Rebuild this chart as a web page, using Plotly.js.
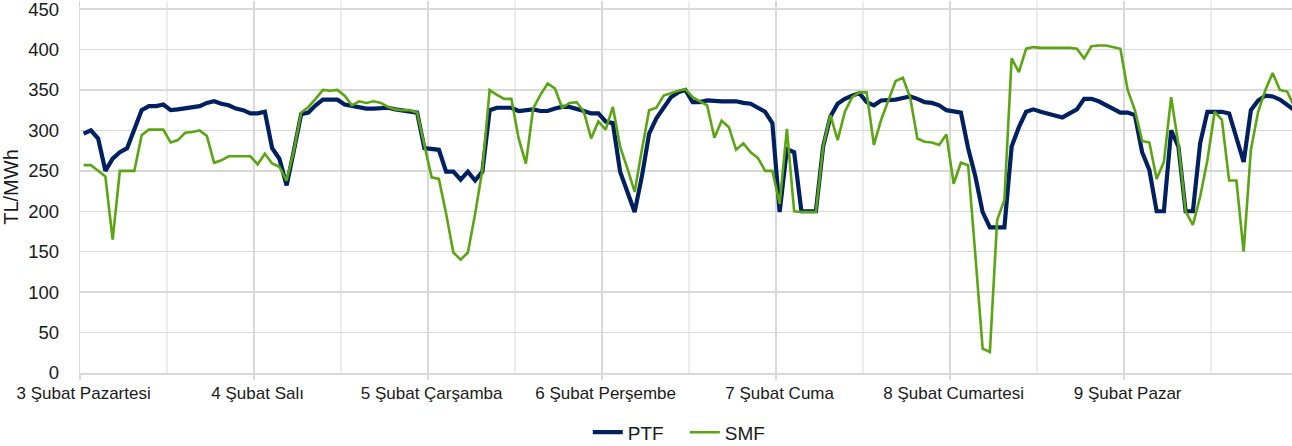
<!DOCTYPE html>
<html><head><meta charset="utf-8">
<script src="https://cdn.plot.ly/plotly-3.0.1.min.js"></script>
<style>html,body{margin:0;padding:0;overflow:hidden;background:#fff}</style>
</head><body><div id="chart" style="width:1292px;height:446px"></div>
<script>
const dayLabels = ['3 Şubat Pazartesi','4 Şubat Salı','5 Şubat Çarşamba','6 Şubat Perşembe','7 Şubat Cuma','8 Şubat Cumartesi','9 Şubat Pazar'];
const seriesNames = ['PTF','SMF'];
const yTicks = [0,50,100,150,200,250,300,350,400,450];
const ptf = [
296,300,290,250,265,273,278,301,325,330,330,332,325,326,327,328,330,334,336,333,331,327,325,321,
321,323,278,265,232,275,320,322,331,338,338,338,332,330,329,327,327,327,328,326,325,324,322,278,
277,276,249,249,239,249,238,249,325,328,328,328,324,325,326,324,324,327,329,329,327,324,321,321,
311,309,249,222,199,243,296,315,329,341,347,350,335,335,337,336,336,336,336,334,333,328,323,309,
199,277,273,200,200,200,280,317,333,339,343,346,335,331,337,337,338,340,342,339,335,334,331,325,
323,322,278,243,199,180,180,180,280,304,323,326,323,321,319,316,321,326,339,339,336,331,327,322,
322,319,273,251,200,200,300,280,200,200,284,323,323,323,321,292,261,325,337,343,342,338,332,325
];
const smf = [
257,257,250,243,165,250,250,250,294,301,301,301,285,288,297,298,300,293,260,263,268,268,268,268,
258,271,259,255,238,275,322,329,339,350,349,350,343,331,336,334,336,334,329,326,325,325,322,280,
242,240,197,149,140,149,197,251,350,344,339,339,290,259,327,344,358,352,328,334,335,323,290,311,
301,329,280,253,224,276,325,328,343,346,349,351,341,336,331,291,312,304,276,284,273,266,250,250,
209,302,200,199,199,199,280,319,288,323,341,347,347,282,313,337,361,365,341,290,286,285,282,295,
234,260,257,145,30,26,189,214,389,372,401,403,402,402,402,402,402,401,389,404,405,405,403,401,
350,325,287,285,240,261,341,283,200,183,218,263,323,313,238,238,150,276,323,350,371,350,348,329
];
const hours = ptf.map((_, i) => i);
const labelPos = dayLabels.map((_, d) => d * 24);
const dayBounds = dayLabels.map((_, d) => d * 24 - 0.5);
const halfBounds = dayLabels.map((_, d) => d * 24 + 11.5);
const FONT = 'Arial, "Liberation Sans", sans-serif';
const xr = [-0.5, 166.67];

const traces = [
  {x: hours, y: ptf, name: seriesNames[0], type: 'scatter', mode: 'lines',
   line: {color: '#002060', width: 4.2}, xaxis: 'x', yaxis: 'y', hoverinfo: 'skip'},
  {x: hours, y: smf, name: seriesNames[1], type: 'scatter', mode: 'lines',
   line: {color: '#5ba512', width: 2.6}, xaxis: 'x2', yaxis: 'y', hoverinfo: 'skip'}
];

const layout = {
  width: 1292, height: 446,
  margin: {l: 80, r: 0, t: 0.9, b: 73.3, pad: 0, autoexpand: false},
  paper_bgcolor: '#fff', plot_bgcolor: '#fff',
  font: {family: FONT, color: '#1a1a1a'},
  showlegend: true,
  legend: {orientation: 'h', x: 0.499, xanchor: 'center', y: -0.1595, yanchor: 'middle',
           font: {size: 19, color: '#1a1a1a'}, entrywidth: 52, entrywidthmode: 'pixels', tracegroupgap: 0},
  xaxis: {range: xr, tickmode: 'array', tickvals: labelPos, ticktext: dayLabels,
          showgrid: false, zeroline: false, showline: true, linecolor: '#d9d9d9', linewidth: 1.5, ticks: '',
          tickfont: {size: 17, color: '#1a1a1a'}, ticklabelstandoff: 4,
          minor: {tickmode: 'array', tickvals: halfBounds, showgrid: true, gridcolor: '#ececec', gridwidth: 1.3, ticks: ''}},
  xaxis2: {range: xr, overlaying: 'x', side: 'bottom', tickmode: 'array', tickvals: dayBounds,
           showticklabels: false, showgrid: true, gridcolor: '#d9d9d9', gridwidth: 1.3,
           ticks: 'outside', ticklen: 6, tickcolor: '#d9d9d9', tickwidth: 1.3,
           zeroline: false, showline: false},
  yaxis: {range: [0, 460], tickmode: 'array', tickvals: yTicks,
          showgrid: true, gridcolor: '#d9d9d9', gridwidth: 1.5, zeroline: false,
          showline: true, linecolor: '#d9d9d9', linewidth: 1.3, ticks: '', tickfont: {size: 18.5, color: '#1a1a1a'},
          ticklabelstandoff: 16, ticklabeloverflow: 'allow',
          title: {text: 'TL/MWh', font: {size: 20, color: '#1a1a1a'}, standoff: 7}}
};

Plotly.newPlot('chart', traces, layout, {displayModeBar: false, staticPlot: true});
</script>
</body></html>
